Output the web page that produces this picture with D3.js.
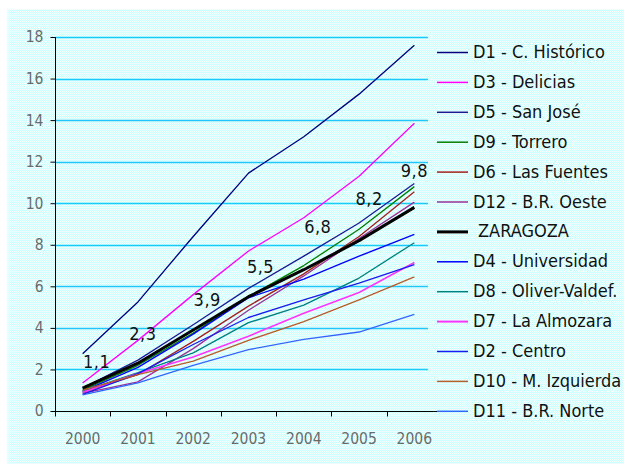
<!DOCTYPE html>
<html>
<head>
<meta charset="utf-8">
<script src="https://cdn.jsdelivr.net/npm/d3@7"></script>
<style>
    body { margin: 0; background: #fff; }
    text { font-family: "DejaVu Sans Condensed", "DejaVu Sans", sans-serif; }
</style>
</head>
<body>
<div id="svg-container"></div>
<script>
// years on the x axis
years = ["2000", "2001", "2002", "2003", "2004", "2005", "2006"]

// one array per district
cHistorico = [2.75, 5.25, 8.4, 11.45, 13.2, 15.25, 17.6]
delicias = [1.35, 3.4, 5.6, 7.7, 9.3, 11.3, 13.85]
sanJose = [1.1, 2.45, 4.15, 5.9, 7.45, 9.05, 10.95]
torrero = [1.0, 2.2, 3.75, 5.5, 7.0, 8.75, 10.8]
lasFuentes = [0.9, 1.75, 3.35, 5.05, 6.6, 8.4, 10.55]
brOeste = [0.85, 1.4, 3.0, 4.85, 6.5, 8.3, 10.05]
zaragoza = [1.1, 2.3, 3.9, 5.5, 6.8, 8.2, 9.8]
universidad = [0.95, 2.1, 3.7, 5.45, 6.35, 7.45, 8.5]
oliverValdef = [0.95, 1.85, 2.8, 4.25, 5.1, 6.4, 8.1]
laAlmozara = [0.9, 1.8, 2.6, 3.6, 4.7, 5.7, 7.15]
centro = [0.8, 1.8, 3.2, 4.5, 5.35, 6.15, 7.05]
mIzquierda = [1.0, 1.75, 2.4, 3.4, 4.3, 5.35, 6.45]
brNorte = [0.78, 1.35, 2.2, 2.95, 3.45, 3.8, 4.65]

names = ["D1 - C. Histórico", "D3 - Delicias", "D5 - San José", "D9 - Torrero",
    "D6 - Las Fuentes", "D12 - B.R. Oeste", " ZARAGOZA", "D4 - Universidad",
    "D8 - Oliver-Valdef.", "D7 - La Almozara", "D2 - Centro", "D10 - M. Izquierda",
    "D11 - B.R. Norte"]
values = [cHistorico, delicias, sanJose, torrero, lasFuentes, brOeste, zaragoza,
    universidad, oliverValdef, laAlmozara, centro, mIzquierda, brNorte]

yTicks = [0, 2, 4, 6, 8, 10, 12, 14, 16, 18]

draw_svg()

function get_color(name) {
    switch (name) {
        case "D1 - C. Histórico": return "#000080";
        case "D3 - Delicias": return "#ff00ff";
        case "D5 - San José": return "#1c1c96";
        case "D9 - Torrero": return "#008000";
        case "D6 - Las Fuentes": return "#a3201c";
        case "D12 - B.R. Oeste": return "#993399";
        case " ZARAGOZA": return "#000000";
        case "D4 - Universidad": return "#0000ff";
        case "D8 - Oliver-Valdef.": return "#008080";
        case "D7 - La Almozara": return "#ff33ff";
        case "D2 - Centro": return "#1a1aee";
        case "D10 - M. Izquierda": return "#b85c28";
        case "D11 - B.R. Norte": return "#3366ff";
    }
}

function draw_svg() {
    width = 624
    height = 464

    svg = d3.select("#svg-container")
        .append("svg")
        .attr("width", width)
        .attr("height", height)

    // dithered light cyan background
    pat = svg.append("defs").append("pattern")
        .attr("id", "dots")
        .attr("width", 2).attr("height", 2)
        .attr("patternUnits", "userSpaceOnUse")
    pat.append("rect").attr("width", 2).attr("height", 2).attr("fill", "#f2ffff")
    pat.append("rect").attr("width", 1).attr("height", 1).attr("fill", "#ccffff")
    pat.append("rect").attr("x", 1).attr("y", 1).attr("width", 1).attr("height", 1).attr("fill", "#d9ffff")

    svg.append("rect")
        .attr("x", 7).attr("y", 9)
        .attr("width", width - 7).attr("height", height - 9)
        .attr("fill", "url(#dots)")

    xScale = d3.scaleBand()
        .domain(years)
        .range([55, 442])
        .padding(0)

    yScale = d3.scaleLinear()
        .domain([0, 18])
        .range([411, 37])

    xMid = (y) => xScale(y) + xScale.bandwidth() / 2

    // gridlines
    svg.selectAll(".grid")
        .data(yTicks.filter((t) => t > 0))
        .enter()
        .append("line")
        .attr("x1", 55).attr("x2", 428)
        .attr("y1", (t) => Math.round(yScale(t)) + 0.5)
        .attr("y2", (t) => Math.round(yScale(t)) + 0.5)
        .attr("stroke", "#1ec8ff")
        .attr("stroke-width", 1.3)

    // y axis
    yAxis = d3.axisLeft(yScale)
        .tickValues(yTicks)
        .tickSize(5)
        .tickPadding(7)
    gy = svg.append("g")
        .attr("transform", "translate(55.5,0)")
        .call(yAxis)
    gy.select(".domain").attr("stroke", "#000").attr("d", "M0," + yScale(18) + "V" + yScale(0))
    gy.selectAll(".tick line").attr("stroke", "#000")
    gy.selectAll("text")
        .attr("fill", "#6a6a6a")
        .attr("font-size", "15.5px")
        .attr("font-family", "DejaVu Sans Condensed, DejaVu Sans, sans-serif")

    // x axis: ticks at band edges, labels at band centres
    gx = svg.append("g").attr("transform", "translate(0," + (Math.round(yScale(0)) + 0.5) + ")")
    gx.append("line")
        .attr("x1", 55).attr("x2", 442)
        .attr("stroke", "#000")
    gx.selectAll(".xt")
        .data(years)
        .enter()
        .append("line")
        .attr("x1", (y) => Math.round(xScale(y)) + 0.5)
        .attr("x2", (y) => Math.round(xScale(y)) + 0.5)
        .attr("y1", 0).attr("y2", 5)
        .attr("stroke", "#000")
    gx.selectAll(".xl")
        .data(years)
        .enter()
        .append("text")
        .attr("x", (y) => xMid(y))
        .attr("y", 32)
        .attr("text-anchor", "middle")
        .attr("fill", "#6a6a6a")
        .attr("font-size", "15.5px")
        .text((y) => y)

    // lines, ZARAGOZA last so it stays on top
    line = d3.line()
        .x((v, i) => xMid(years[i]))
        .y((v) => yScale(v))

    order = d3.range(names.length).filter((i) => names[i] != " ZARAGOZA")
    order.push(names.indexOf(" ZARAGOZA"))

    svg.selectAll(".series")
        .data(order)
        .enter()
        .append("path")
        .attr("fill", "none")
        .attr("stroke", (i) => get_color(names[i]))
        .attr("stroke-width", (i) => names[i] == " ZARAGOZA" ? 3 : (names[i] == "D7 - La Almozara" ? 1.6 : 1.35))
        .attr("stroke-linejoin", "round")
        .attr("d", (i) => line(values[i]))

    // ZARAGOZA value labels
    nudgeX = [14, 5, 14, 12, 14, 10, 0]
    nudgeY = [20, 23, 24, 24, 37, 36, 30]
    svg.selectAll(".vlabel")
        .data(zaragoza)
        .enter()
        .append("text")
        .attr("x", (v, i) => xMid(years[i]) + nudgeX[i])
        .attr("y", (v, i) => yScale(v) - nudgeY[i])
        .attr("text-anchor", "middle")
        .attr("font-size", "18px")
        .attr("letter-spacing", "0.5px")
        .attr("fill", "#111")
        .text((v) => String(v).replace(".", ","))

    // legend
    legend = svg.selectAll(".legend")
        .data(names)
        .enter()
        .append("g")
        .attr("transform", (n, i) => "translate(0," + (52 + i * 29.9) + ")")

    legend.append("line")
        .attr("x1", 437).attr("x2", 468)
        .attr("y1", 0.5).attr("y2", 0.5)
        .attr("stroke", (n) => get_color(n))
        .attr("stroke-width", (n) => n == " ZARAGOZA" ? 3 : (n == "D7 - La Almozara" ? 2 : 1.5))

    legend.append("text")
        .attr("x", (n) => n == " ZARAGOZA" ? 478 : 473)
        .attr("y", 6)
        .attr("font-size", "18px")
        .attr("fill", "#111")
        .text((n) => n.trim())
}
</script>
</body>
</html>
